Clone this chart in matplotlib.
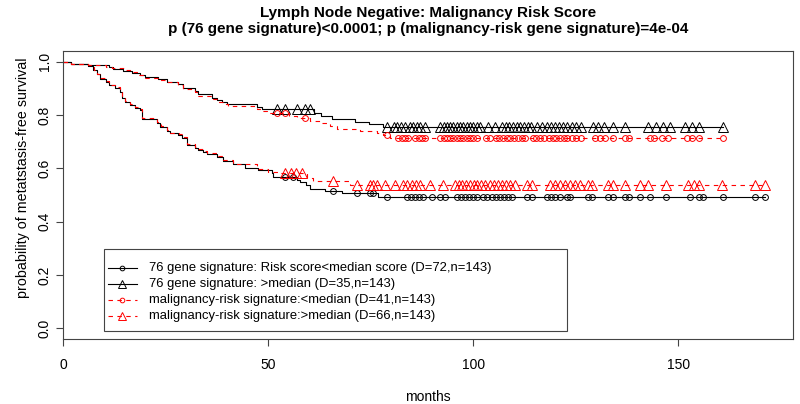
import numpy as np
import matplotlib
matplotlib.use("Agg")
import matplotlib.pyplot as plt
from matplotlib.lines import Line2D
from matplotlib.patches import Rectangle

plt.rcParams['font.family'] = ['Liberation Sans', 'DejaVu Sans']

title = "Lymph Node Negative: Malignancy Risk Score\np (76 gene signature)<0.0001; p (malignancy-risk gene signature)=4e-04"
xlabel = "months"
ylabel = "probability of metatstasis-free survival"
labels = ["76 gene signature: Risk score<median score (D=72,n=143)",
          "76 gene signature: >median (D=35,n=143)",
          "malignancy-risk signature:<median (D=41,n=143)",
          "malignancy-risk signature:>median (D=66,n=143)"]

# 76 gene signature, low risk score (black, circles)
lb_times = [2.0, 6.2, 7.4, 8.2, 9.0, 10.6, 11.1, 12.7, 13.9, 14.3, 15.1, 16.3, 17.6, 18.8, 19.2,
            22.8, 23.7, 25.3, 26.1, 28.1, 29.0, 30.2, 32.2, 33.0, 34.2, 35.0, 37.5, 39.0, 41.5,
            44.4, 47.6, 50.9, 51.3, 57.0, 57.8, 59.3, 60.2, 63.9, 68.0, 76.9]
lb_surv = [0.993, 0.985, 0.968, 0.952, 0.935, 0.925, 0.912, 0.903, 0.887, 0.862, 0.850, 0.838, 0.828, 0.819, 0.785,
           0.769, 0.756, 0.740, 0.731, 0.725, 0.715, 0.688, 0.678, 0.669, 0.663, 0.653, 0.644, 0.628, 0.615,
           0.603, 0.594, 0.582, 0.569, 0.557, 0.548, 0.536, 0.523, 0.516, 0.507, 0.492]
lb_cens = [54.1, 56.0, 65.9, 71.6, 74.9, 75.6, 79.0, 83.8, 84.8, 85.8, 86.8, 87.7, 89.9, 92.0, 93.2,
           96.0, 97.0, 98.0, 99.0, 100.0, 101.0, 102.5, 103.5, 104.5, 105.5, 106.6, 107.6, 108.6, 109.6,
           113.1, 114.3, 118.0, 119.0, 120.0, 121.2, 122.8, 123.7, 128.0, 129.0, 133.0, 134.0, 137.0, 138.0,
           140.7, 143.2, 147.0, 153.0, 155.0, 156.0, 161.0, 168.8, 171.2]

# 76 gene signature, >median (black, triangles)
ub_times = [2.0, 6.2, 11.1, 12.3, 14.7, 16.8, 18.8, 20.0, 23.2, 25.3, 28.1, 29.3, 32.2, 33.0, 36.3,
            37.5, 38.7, 39.9, 47.2, 48.5, 61.3, 63.0, 65.5, 71.2, 74.5, 78.1]
ub_surv = [0.993, 0.986, 0.979, 0.972, 0.965, 0.958, 0.950, 0.943, 0.935, 0.925, 0.915, 0.900, 0.890, 0.877, 0.865,
           0.856, 0.850, 0.840, 0.831, 0.822, 0.806, 0.796, 0.786, 0.775, 0.765, 0.754]
ub_cens = [52.1, 54.1, 57.0, 59.0, 60.2, 78.9, 80.6, 81.5, 82.4, 83.3, 84.5, 85.4, 86.3, 87.0, 88.3,
           92.0, 92.8, 93.6, 94.4, 95.2, 96.0, 96.8, 97.6, 98.4, 99.2, 100.0, 100.9, 101.7, 103.7, 105.4,
           107.0, 107.9, 108.8, 109.7, 110.6, 111.5, 112.4, 113.3, 114.2, 115.5, 116.7, 118.0, 119.0, 120.0,
           121.0, 122.0, 123.0, 124.0, 125.0, 126.2, 129.3, 130.5, 131.8, 134.2, 137.0, 142.7, 144.5, 146.3,
           148.0, 151.7, 153.3, 155.0, 161.0]

# malignancy-risk signature, <median (red, circles)
ur_times = [2.0, 6.2, 10.6, 11.9, 15.1, 16.3, 18.4, 20.0, 23.2, 25.3, 28.1, 29.3, 32.2, 33.0, 36.3,
            37.8, 39.0, 40.3, 47.2, 48.5, 49.7, 55.0, 57.0, 60.2, 62.7, 65.1, 66.8, 72.4, 76.5, 78.0, 79.8]
ur_surv = [0.993, 0.986, 0.981, 0.975, 0.967, 0.960, 0.950, 0.938, 0.931, 0.922, 0.912, 0.897, 0.885, 0.872, 0.860,
           0.850, 0.840, 0.835, 0.822, 0.815, 0.807, 0.797, 0.790, 0.778, 0.769, 0.757, 0.747, 0.740, 0.733, 0.725, 0.715]
ur_cens = [52.1, 54.1, 58.9, 78.9, 81.8, 82.6, 83.4, 84.2, 85.9, 86.7, 87.5, 88.3, 92.0, 92.8, 93.6,
           94.4, 95.2, 96.0, 96.8, 97.6, 98.4, 99.2, 100.0, 101.0, 103.2, 104.0, 105.5, 106.4, 107.3, 108.2,
           109.1, 110.0, 110.9, 111.8, 112.7, 114.5, 115.4, 116.3, 117.2, 118.5, 119.4, 120.3, 121.2, 122.1,
           123.0, 124.0, 125.0, 126.2, 129.8, 131.0, 132.2, 134.0, 137.0, 138.0, 143.2, 144.0, 146.0, 147.6,
           152.1, 153.3, 155.0, 161.0]

# malignancy-risk signature, >median (red, triangles)
lr_times = [2.0, 6.2, 7.5, 8.3, 9.1, 10.6, 11.2, 12.7, 13.9, 14.4, 15.1, 16.4, 17.6, 18.8, 19.3,
            22.8, 23.8, 25.3, 26.1, 28.2, 29.0, 30.3, 32.2, 33.0, 34.3, 35.0, 37.5, 39.0, 41.5,
            47.2, 50.0, 52.9, 59.4, 61.0, 70.0]
lr_surv = [0.993, 0.986, 0.969, 0.953, 0.937, 0.926, 0.914, 0.905, 0.889, 0.865, 0.853, 0.841, 0.831, 0.822, 0.788,
           0.772, 0.759, 0.743, 0.734, 0.728, 0.718, 0.691, 0.681, 0.672, 0.666, 0.656, 0.647, 0.631, 0.615,
           0.597, 0.588, 0.582, 0.563, 0.553, 0.538]
lr_cens = [54.1, 55.5, 56.8, 58.2, 65.9, 71.6, 74.9, 75.7, 76.5, 78.5, 81.0, 83.0, 84.0, 85.0, 86.0, 87.0,
           89.5, 92.7, 95.6, 96.5, 97.4, 98.3, 99.2, 100.1, 101.0, 102.0, 103.0, 104.0, 105.0, 106.0, 107.0,
           108.0, 109.0, 110.2, 113.1, 114.3, 118.8, 120.0, 121.2, 122.4, 123.6, 124.8, 126.0, 128.0, 129.0,
           133.0, 134.0, 137.0, 140.7, 142.7, 147.0, 152.4, 153.8, 155.2, 160.7, 168.8, 171.2]

W, H = 800, 404
fig = plt.figure(figsize=(W / 100, H / 100), dpi=100)
ax = fig.add_axes([63 / W, 1 - 339 / H, 730 / W, 288 / H])


def fx(px):
    return px / W


def fy(py):
    return 1 - py / H


def km_value(times, surv, t):
    times = np.asarray(times)
    surv = np.asarray(surv)
    idx = np.searchsorted(times, t, side='right') - 1
    return np.where(idx < 0, 1.0, surv[np.clip(idx, 0, None)])


def draw(times, surv, cens, color, dashed, marker, ms):
    t_end = max(max(times), max(cens))
    xs = np.concatenate([[0.0], times, [t_end]])
    ys = np.concatenate([[1.0], surv, [surv[-1]]])
    kw = dict(ls=(0, (4, 4))) if dashed else dict(ls='-')
    ax.step(xs, ys, where='post', color=color, lw=0.8, **kw)
    cy = km_value(times, surv, np.asarray(cens))
    ax.plot(cens, cy, ls='none', marker=marker, ms=ms, mfc='none', mec=color, mew=0.7)


styles = [('black', False, 'o', 4.2), ('black', False, '^', 6.5),
          ('red', True, 'o', 4.2), ('red', True, '^', 6.5)]

draw(lb_times, lb_surv, lb_cens, *styles[0])
draw(ub_times, ub_surv, ub_cens, *styles[1])
draw(ur_times, ur_surv, ur_cens, *styles[2])
draw(lr_times, lr_surv, lr_cens, *styles[3])

ax.set_xlim(0, 178)
ax.set_ylim(-0.04, 1.04)
ax.set_xticks([0, 50, 100, 150])
ax.set_yticks([0.0, 0.2, 0.4, 0.6, 0.8, 1.0])
ax.set_yticklabels(["0.0", "0.2", "0.4", "0.6", "0.8", "1.0"], rotation=90, va='center')
ax.tick_params(direction='out', length=5, width=0.8, color='#444444', labelsize=10)
ax.tick_params(axis='y', pad=3)
ax.tick_params(axis='x', pad=9)
for s in ax.spines.values():
    s.set_color('#444444')
    s.set_linewidth(0.8)

fig.text(fx(428), fy(397), xlabel, ha='center', va='center', fontsize=10)
fig.text(fx(23), fy(178), ylabel, ha='center', va='center', rotation=90, fontsize=10.3)
fig.text(fx(428), fy(21), title, ha='center', va='center', fontsize=11, fontweight='bold',
         linespacing=1.25)

# legend box drawn by hand in figure pixel space
fig.patches.append(Rectangle((fx(104), fy(331)), fx(567) - fx(104), fy(249) - fy(331),
                             transform=fig.transFigure, fill=True, facecolor='white',
                             edgecolor='#444444', lw=0.8, zorder=5))
row_y = [267.7, 283.5, 299.5, 315.7]
for (color, dashed, marker, ms), lab, ry in zip(styles, labels, row_y):
    ls = (0, (4, 4)) if dashed else '-'
    fig.add_artist(Line2D([fx(107.5), fx(136.5)], [fy(ry), fy(ry)], transform=fig.transFigure,
                          color=color, lw=0.8, ls=ls, zorder=6))
    fig.add_artist(Line2D([fx(122)], [fy(ry)], transform=fig.transFigure, color=color,
                          marker=marker, ms=ms * 0.8, mfc='none', mew=0.7, ls='none', zorder=6))
    fig.text(fx(149), fy(ry), lab, ha='left', va='center', fontsize=9.4, zorder=7)

fig.savefig("out.png", dpi=100)
